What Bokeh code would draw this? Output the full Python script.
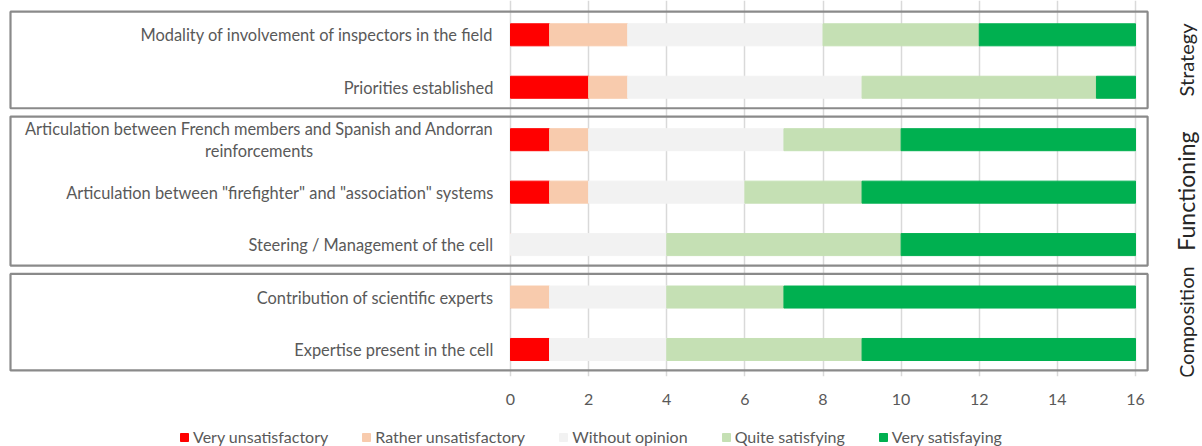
import math
from bokeh.plotting import figure
from bokeh.layouts import column
from bokeh.models import ColumnDataSource, Range1d, FixedTicker, Legend, LegendItem
from bokeh.core.properties import value
from bokeh.embed import file_html
from bokeh.resources import INLINE

categories = [
    "Modality of involvement of inspectors in the field",
    "Priorities established",
    "Articulation between French members and Spanish and Andorran\nreinforcements",
    "Articulation between \"firefighter\" and \"association\" systems",
    "Steering / Management of the cell",
    "Contribution of scientific experts",
    "Expertise present in the cell",
]
groups = ["Strategy", "Functioning", "Composition"]
group_sizes = [2, 3, 2]

series = ["Very unsatisfactory", "Rather unsatisfactory", "Without opinion",
          "Quite satisfying", "Very satisfaying"]
very_unsatisfactory = [1, 2, 1, 1, 0, 0, 1]
rather_unsatisfactory = [2, 1, 1, 1, 0, 1, 0]
without_opinion = [5, 6, 5, 4, 4, 3, 3]
quite_satisfying = [4, 6, 3, 3, 6, 3, 5]
very_satisfaying = [4, 1, 6, 7, 6, 9, 7]
colors = ["#FF0000", "#F8CBAD", "#F2F2F2", "#C5E0B4", "#00B050"]
x_ticks = [0, 2, 4, 6, 8, 10, 12, 14, 16]

keys = ["vu", "ru", "wo", "qs", "vs"]
rows = list(range(len(categories)))
source = ColumnDataSource(dict(
    y=rows, vu=very_unsatisfactory, ru=rather_unsatisfactory,
    wo=without_opinion, qs=quite_satisfying, vs=very_satisfaying))

FONT = "Lato"
TXT = "#595959"

p = figure(width=1202, height=410, output_backend="svg", toolbar_location=None,
           x_range=Range1d(-13.056, 17.715), y_range=Range1d(6.515, -0.654),
           y_axis_location=None, min_border_left=0, min_border_right=0,
           min_border_top=0, min_border_bottom=34)
p.outline_line_color = None
p.background_fill_color = "white"
p.border_fill_color = "white"

renderers = p.hbar_stack(keys, y="y", height=0.42, color=colors, source=source)

# axis
p.xaxis.ticker = FixedTicker(ticks=x_ticks)
p.xaxis.axis_line_color = None
p.xaxis.major_tick_line_color = None
p.xaxis.minor_tick_line_color = None
p.xaxis.major_label_text_font = FONT
p.xaxis.major_label_text_font_size = "16px"
p.xaxis.major_label_text_color = TXT
p.xaxis.major_label_standoff = 11
p.xgrid.grid_line_color = "#d9d9d9"
p.xgrid.grid_line_width = 1.5
p.ygrid.visible = False

# category labels
label_x = -0.44
p.text(x=[label_x] * len(categories), y=rows, text=categories,
       anchor="center_right", text_align="center", text_baseline="middle",
       text_font=value(FONT), text_font_size="16.4px", text_color=TXT,
       text_line_height=1.15)

# group boxes and labels
box_left, box_right = -12.8, 16.31
pad_top, pad_bottom = 0.44, 0.40
tops, bottoms, centers = [], [], []
start = 0
for n in group_sizes:
    t = start - pad_top
    b = start + n - 1 + pad_bottom
    tops.append(t)
    bottoms.append(b)
    centers.append((t + b) / 2)
    start += n
p.quad(left=[box_left] * 3, right=[box_right] * 3, top=tops, bottom=bottoms,
       fill_alpha=0, line_color="#8a8a8a", line_width=2.2)
group_src = ColumnDataSource(dict(x=[17.3] * 3, y=centers, text=groups,
                                  size=["20px", "23px", "20px"]))
p.text(x="x", y="y", text="text", source=group_src, angle=math.pi / 2,
       text_align="center", text_baseline="middle", text_font=value(FONT),
       text_font_size="size", text_color="#262626")

# legend strip (separate figure below the chart)
pl = figure(width=1202, height=36, output_backend="svg", toolbar_location=None,
            x_axis_location=None, y_axis_location=None, min_border=0)
pl.outline_line_color = None
pl.xgrid.visible = False
pl.ygrid.visible = False
leg_renderers = pl.hbar_stack(keys, y="y", height=0.42, color=colors, source=source)
for r in leg_renderers:
    r.visible = False

legend = Legend(items=[LegendItem(label=s, renderers=[r]) for s, r in zip(series, leg_renderers)],
                orientation="horizontal", location=(179, 0),
                glyph_width=10, glyph_height=10, label_standoff=4, spacing=33,
                padding=0, margin=0, label_height=16,
                border_line_alpha=0, background_fill_alpha=0,
                label_text_font=FONT, label_text_font_size="16px",
                label_text_color=TXT)
pl.add_layout(legend, "center")

layout = column(p, pl, spacing=0)
open("out.html", "w").write(file_html(layout, INLINE))
